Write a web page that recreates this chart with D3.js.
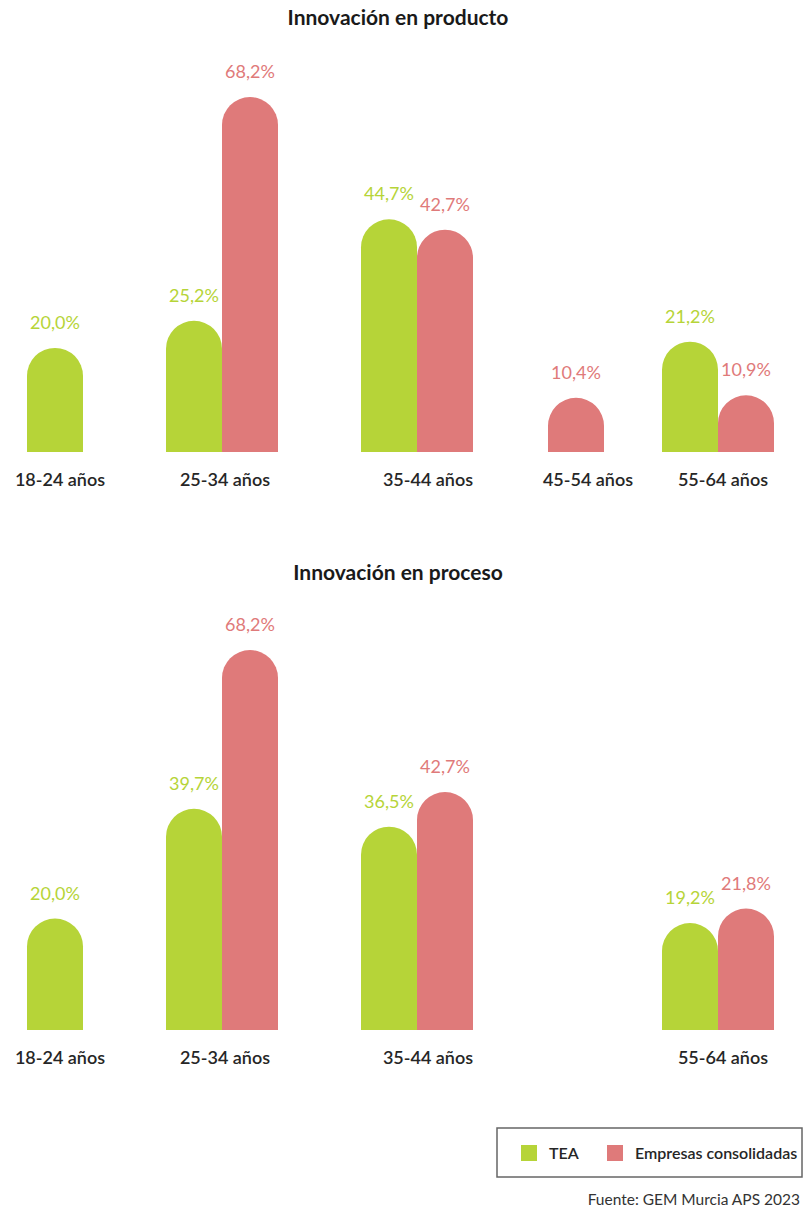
<!DOCTYPE html>
<html lang="es">
<head>
    <meta charset="UTF-8">
    <title>Innovación por edad</title>
    <script src="https://d3js.org/d3.v7.min.js"></script>
    <style>
        body { margin: 0; background: #fff; }
        svg { display: block; font-family: Lato, "Open Sans", sans-serif; }
        .title { font-size: 21px; font-weight: 700; fill: #1a1a1a; }
        .cat { font-size: 18px; font-weight: 600; fill: #262626; }
        .val { font-size: 18px; font-weight: 400; }
        .legend text { font-size: 16px; font-weight: 600; fill: #262626; }
        .source { font-size: 15.5px; fill: #333; }
    </style>
</head>
<body>
<div id="chart"></div>
<script>
    // data
    const categories = ["18-24 años", "25-34 años", "35-44 años", "45-54 años", "55-64 años"];
    const series = ["TEA", "Empresas consolidadas"];
    const productoTEA = [20.0, 25.2, 44.7, null, 21.2];
    const productoConsolidadas = [null, 68.2, 42.7, 10.4, 10.9];
    const procesoTEA = [20.0, 39.7, 36.5, null, 19.2];
    const procesoConsolidadas = [null, 68.2, 42.7, null, 21.8];
    const source = "Fuente: GEM Murcia APS 2023";

    const colors = ["#b6d438", "#df7a7a"];
    const W = 803, H = 1207, barW = 56;

    const svg = d3.select("#chart").append("svg")
        .attr("width", W)
        .attr("height", H);

    // groups are not evenly spaced in the original
    const xGroup = d3.scaleOrdinal().domain(categories).range([27, 166, 361, 492, 662]);
    const xLabel = d3.scaleOrdinal().domain(categories).range([60, 225, 428, 588, 723]);
    const xSeries = d3.scaleBand().domain(series).range([0, barW * 2]);

    const fmt = v => d3.format(".1f")(v).replace(".", ",") + "%";

    function barPath(x, w, y0, y1) {
        const r = w / 2;
        return `M${x},${y0}L${x},${y1 + r}A${r},${r} 0 0 1 ${x + w},${y1 + r}L${x + w},${y0}Z`;
    }

    function panel(title, titleY, base, top, tea, cons) {
        const y = d3.scaleLinear().domain([0, 68.2]).range([base, top]);
        const rows = [];
        categories.forEach((c, i) => {
            [tea[i], cons[i]].forEach((v, j) => {
                if (v != null) rows.push({ cat: c, s: series[j], v: v, j: j });
            });
        });

        svg.append("text").attr("class", "title")
            .attr("x", 398).attr("y", titleY)
            .attr("text-anchor", "middle")
            .text(title);

        const g = svg.append("g");
        g.selectAll("path").data(rows).join("path")
            .attr("d", d => barPath(xGroup(d.cat) + xSeries(d.s), xSeries.bandwidth(), y(0), y(d.v)))
            .attr("fill", d => colors[d.j]);

        g.selectAll("text.val").data(rows).join("text")
            .attr("class", "val")
            .attr("x", d => xGroup(d.cat) + xSeries(d.s) + xSeries.bandwidth() / 2)
            .attr("y", d => y(d.v) - 19)
            .attr("text-anchor", "middle")
            .attr("fill", d => colors[d.j])
            .text(d => fmt(d.v));

        const used = categories.filter((c, i) => tea[i] != null || cons[i] != null);
        g.selectAll("text.cat").data(used).join("text")
            .attr("class", "cat")
            .attr("x", d => xLabel(d))
            .attr("y", base + 34)
            .attr("text-anchor", "middle")
            .text(d => d);
    }

    panel("Innovación en producto", 25, 452, 97, productoTEA, productoConsolidadas);
    panel("Innovación en proceso", 580, 1030, 650, procesoTEA, procesoConsolidadas);

    // legend
    const lg = svg.append("g").attr("class", "legend");
    lg.append("rect")
        .attr("x", 497).attr("y", 1128)
        .attr("width", 305).attr("height", 49)
        .attr("fill", "none").attr("stroke", "#666").attr("stroke-width", 1.5);
    const items = lg.selectAll("g.item").data(series).join("g")
        .attr("transform", (d, i) => `translate(${[521, 607][i]},1145)`);
    items.append("rect").attr("width", 16).attr("height", 16).attr("fill", (d, i) => colors[i]);
    items.append("text").attr("x", 28).attr("y", 14).text(d => d);

    svg.append("text").attr("class", "source")
        .attr("x", 800).attr("y", 1205)
        .attr("text-anchor", "end")
        .text(source);
</script>
</body>
</html>
